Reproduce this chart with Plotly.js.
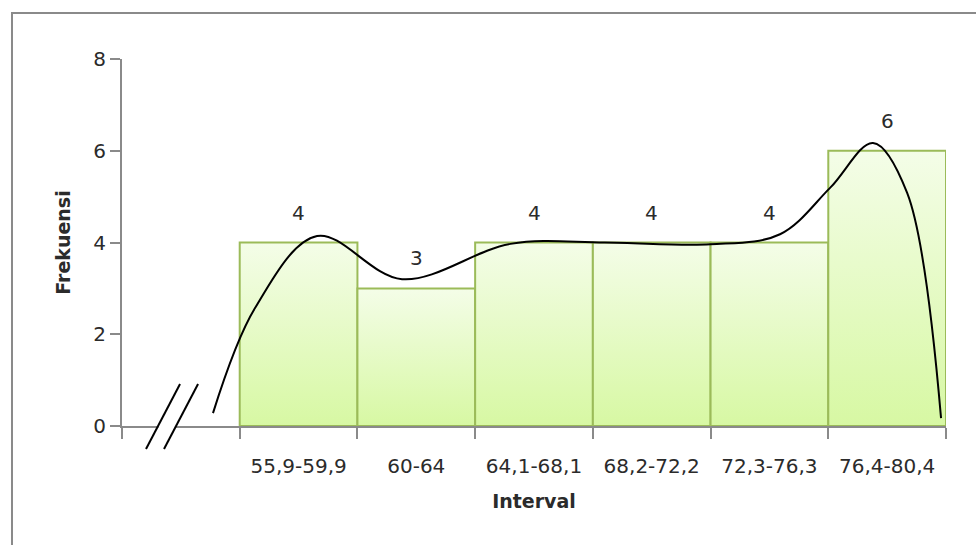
<!DOCTYPE html>
<html>
<head>
<meta charset="utf-8">
<script src="https://cdn.plot.ly/plotly-3.0.1.min.js"></script>
<style>html,body{margin:0;padding:0;background:#fff;}#chart{width:976px;height:545px;}</style>
</head>
<body>
<div id="chart"></div>
<script>
// ---- data ----
const categories = ['55,9-59,9', '60-64', '64,1-68,1', '68,2-72,2', '72,3-76,3', '76,4-80,4'];
const frequencies = [4, 3, 4, 4, 4, 6];
const yTicks = [0, 2, 4, 6, 8];
// hand-drawn smooth curve (x in slot units, bars at 1..6)
const curveX = [0.273, 0.63, 1.157, 1.879, 2.80, 3.60, 4.50, 5.09, 5.515, 5.88, 6.17, 6.458];
const curveY = [0.28, 2.57, 4.14, 3.20, 3.97, 4.00, 3.96, 4.18, 5.19, 6.17, 5.08, 0.17];
// axis-break marks (two slashes) in data units
const breakMarks = [
  {x0: -0.296, y0: -0.50, x1: -0.007, y1: 0.915},
  {x0: -0.143, y0: -0.50, x1: 0.146, y1: 0.915}
];
const breakGap = {x0: -0.19, x1: -0.045};

// ---- chart ----
const xMin = -0.5, xMax = categories.length + 0.5, yMax = 8;
const dx = v => (v - xMin) / (xMax - xMin);
const dy = v => v / yMax;

const traces = [];
categories.forEach((c, i) => {
  const xc = i + 1, v = frequencies[i];
  traces.push({
    type: 'scatter', mode: 'lines',
    x: [xc - 0.5, xc - 0.5, xc + 0.5, xc + 0.5, xc - 0.5],
    y: [0, v, v, 0, 0],
    fill: 'toself',
    fillgradient: {type: 'vertical', colorscale: [[0, '#d7f8a3'], [1, '#f4fde8']]},
    line: {color: '#9bbb59', width: 2},
    hoverinfo: 'skip', showlegend: false
  });
});
traces.push({
  type: 'scatter', mode: 'lines', x: curveX, y: curveY,
  line: {shape: 'spline', smoothing: 1, color: '#000', width: 2},
  hoverinfo: 'skip', showlegend: false
});

const shapes = [
  {type: 'rect', xref: 'paper', yref: 'paper', x0: -0.1335, x1: 1.3, y0: -0.6, y1: 1.1253,
   line: {color: '#8a8a8a', width: 2}, fillcolor: 'rgba(0,0,0,0)', layer: 'below'},
  {type: 'line', xref: 'x domain', yref: 'y domain', x0: dx(breakGap.x0), x1: dx(breakGap.x1), y0: 0, y1: 0,
   line: {color: '#fff', width: 5}, layer: 'above'}
];
breakMarks.forEach(b => shapes.push({
  type: 'line', xref: 'x domain', yref: 'y domain',
  x0: dx(b.x0), y0: dy(b.y0), x1: dx(b.x1), y1: dy(b.y1),
  line: {color: '#000', width: 2}, layer: 'above'
}));

const annotations = categories.map((c, i) => ({
  x: i + 1, y: frequencies[i], xref: 'x', yref: 'y', text: String(frequencies[i]),
  showarrow: false, yshift: 30, font: {family: 'DejaVu Sans', size: 20, color: '#2b2b2b'}
}));

const tf = {family: 'DejaVu Sans', size: 20, color: '#2b2b2b'};
const layout = {
  width: 976, height: 545,
  margin: {l: 122, r: 30, t: 59, b: 119},
  paper_bgcolor: '#fff', plot_bgcolor: '#fff',
  font: tf,
  xaxis: {
    range: [xMin, xMax], showgrid: false, zeroline: false,
    showline: true, linecolor: '#8a8a8a', linewidth: 2,
    tickvals: categories.map((c, i) => i + 1), ticktext: categories,
    ticks: '', ticklabelstandoff: 21,
    tickfont: tf,
    minor: {tick0: 0.5, dtick: 1, ticks: 'outside', ticklen: 11, tickcolor: '#8a8a8a', tickwidth: 2, showgrid: false},
    title: {text: '<b>Interval</b>', font: {family: 'DejaVu Sans', size: 19, color: '#2b2b2b'}, standoff: 18},
    fixedrange: true
  },
  yaxis: {
    range: [0, yMax], tickvals: yTicks, showgrid: false, zeroline: false,
    showline: true, linecolor: '#8a8a8a', linewidth: 2,
    ticks: 'outside', ticklen: 10, tickcolor: '#8a8a8a', tickwidth: 2,
    tickfont: tf,
    title: {text: '<b>Frekuensi</b>', font: {family: 'DejaVu Sans', size: 19, color: '#2b2b2b'}, standoff: 18},
    fixedrange: true
  },
  shapes: shapes,
  annotations: annotations,
  showlegend: false
};

Plotly.newPlot('chart', traces, layout, {displayModeBar: false, staticPlot: true});
</script>
</body>
</html>
